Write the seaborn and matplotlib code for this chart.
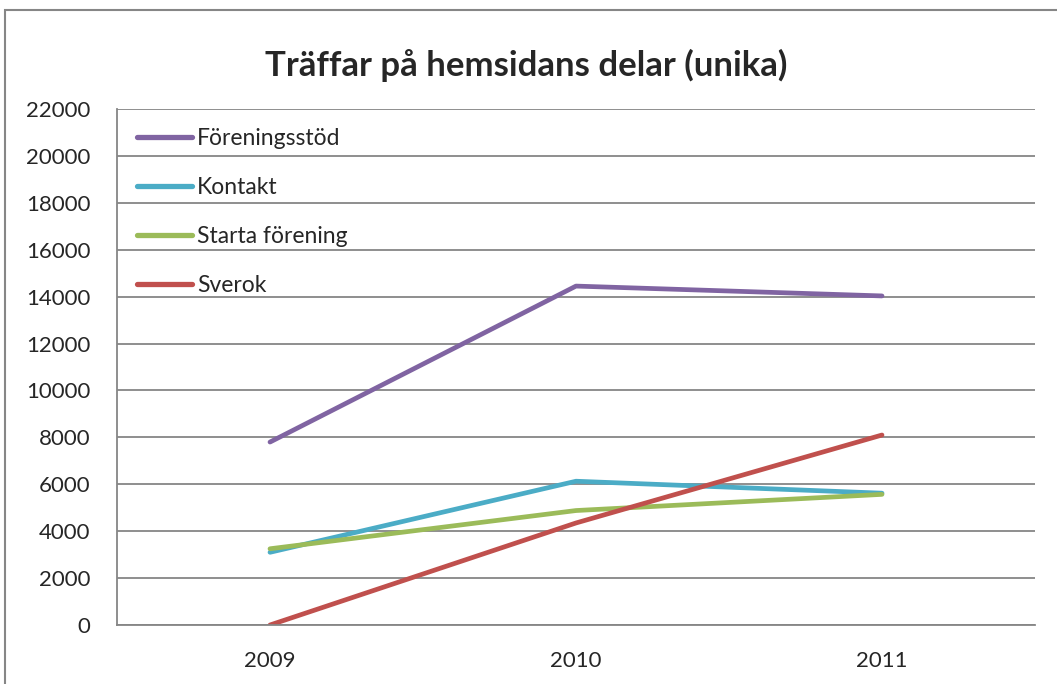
import matplotlib
matplotlib.use("Agg")
import matplotlib.pyplot as plt
import seaborn as sns
import pandas as pd
from matplotlib.patches import Rectangle
from matplotlib.ticker import FixedLocator

# data
years = ["2009", "2010", "2011"]
series_names = ["Föreningsstöd", "Kontakt", "Starta förening", "Sverok"]
foreningsstod = [7800, 14450, 14030]
kontakt = [3100, 6130, 5620]
starta_forening = [3250, 4880, 5570]
sverok = [0, 4350, 8100]
colors = ["#8064A2", "#4BACC6", "#9BBB59", "#C0504D"]

rows = []
for name, values in zip(series_names, [foreningsstod, kontakt, starta_forening, sverok]):
    for i, (year, v) in enumerate(zip(years, values)):
        rows.append({"pos": i, "year": year, "series": name, "value": v})
df = pd.DataFrame(rows)

sns.set_style("white")
plt.rcParams["font.family"] = ["Lato", "DejaVu Sans"]

fig = plt.figure(figsize=(10.57, 6.84), dpi=100)
ax = fig.add_axes([117 / 1057, (684 - 625) / 684, (1035 - 117) / 1057, (625 - 109) / 684])

sns.lineplot(
    data=df, x="pos", y="value", hue="series", hue_order=series_names,
    palette=colors, linewidth=3.4, ax=ax, solid_capstyle="round",
)

ax.set_xlim(-0.5, 2.5)
ax.set_ylim(0, 22000)
ax.set_yticks(range(0, 22001, 2000))
ax.yaxis.grid(True, color="#868686", linewidth=1.3)
ax.set_axisbelow(True)
ax.set_xticks([0, 1, 2])
ax.set_xticklabels(years)
ax.xaxis.set_minor_locator(FixedLocator([-0.5, 0.5, 1.5, 2.5]))
ax.tick_params(axis="x", which="major", length=0, pad=19, labelsize=16)
ax.tick_params(axis="x", which="minor", length=7, width=1.2, color="#868686", direction="out")
ax.tick_params(axis="y", length=7, width=1.2, color="#868686", direction="out", labelsize=16, pad=12)
ax.set_xlabel("")
ax.set_ylabel("")
for side in ["top", "right"]:
    ax.spines[side].set_visible(False)
for side in ["left", "bottom"]:
    ax.spines[side].set_color("#868686")
    ax.spines[side].set_linewidth(1.3)

leg = ax.legend(
    loc="upper left", bbox_to_anchor=(0.022, 0.964), frameon=False, fontsize=16.5,
    handlelength=2.4, handletextpad=0.2, labelspacing=1.23, borderaxespad=0,
    borderpad=0,
)
for line in leg.get_lines():
    line.set_linewidth(3.8)

fig.text(0.5 * (262 + 790) / 1057, (684 - 65) / 684, "Träffar på hemsidans delar (unika)",
         ha="center", va="center", fontsize=25, fontweight="bold")

# outer chart frame
fig.patches.append(Rectangle((5 / 1057, -0.1), 1.2, (684 - 10) / 684 + 0.1,
                             transform=fig.transFigure, fill=False,
                             edgecolor="#868686", linewidth=1.5))

fig.savefig("out.png", dpi=100)
